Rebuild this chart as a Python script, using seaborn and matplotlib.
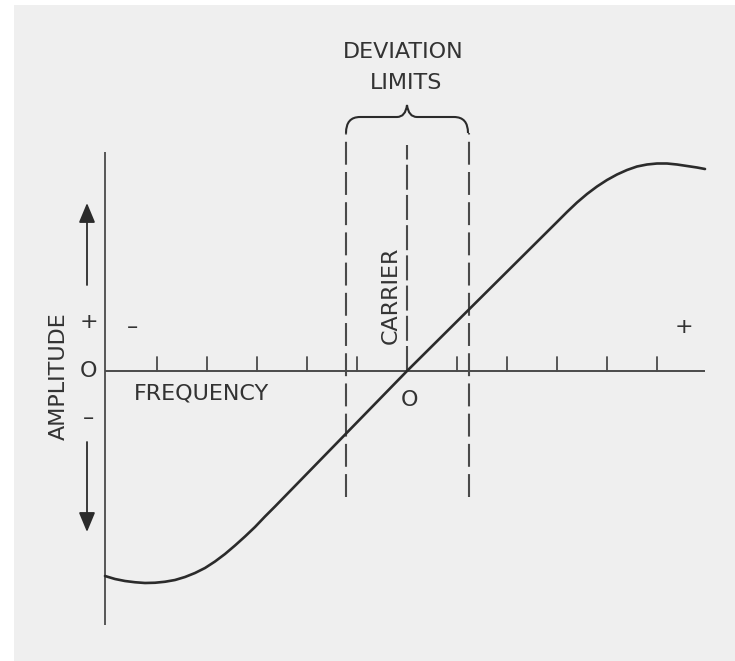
import matplotlib
matplotlib.use("Agg")
import matplotlib.pyplot as plt
from matplotlib.patches import Rectangle, PathPatch
from matplotlib.path import Path
import seaborn as sns
import pandas as pd

# discriminator curve (frequency units = tick spacing)
freq = [-6.04, -5.84, -5.64, -5.44, -5.24, -5.04, -4.84, -4.64, -4.44, -4.24,
        -4.04, -3.84, -3.64, -3.44, -3.24, -3.04, -2.84, -2.64, 0.0, 3.00,
        3.20, 3.40, 3.60, 3.80, 4.00, 4.20, 4.40, 4.60, 4.80, 5.00,
        5.20, 5.40, 5.60, 5.80, 5.96]
amp = [-4.10, -4.16, -4.20, -4.225, -4.24, -4.235, -4.215, -4.18, -4.12, -4.04,
       -3.94, -3.81, -3.66, -3.49, -3.31, -3.12, -2.91, -2.71, 0.0, 2.98,
       3.18, 3.37, 3.54, 3.69, 3.82, 3.93, 4.02, 4.09, 4.13, 4.15,
       4.15, 4.13, 4.10, 4.07, 4.04]

tick_pos = [-5, -4, -3, -2, -1, 1, 2, 3, 4, 5]
dev_limits = [-1.22, 1.23]
amp_labels = ["+", "O", "\u2013"]
amp_label_y = [0.98, 0.0, -0.94]

ink = "#2b2b2b"
axis_ink = "#4a4a4a"
paper = "#efefef"

sns.set_style("white")
plt.rcParams['font.family'] = ['DejaVu Sans']

fig = plt.figure(figsize=(7.35, 6.61), dpi=100)
fig.patch.set_facecolor("white")
fig.patches.append(Rectangle((14 / 735, 0), 1, 656 / 661, transform=fig.transFigure,
                             facecolor=paper, edgecolor="none", zorder=-10))
ax = fig.add_axes([0, 0, 1, 1])
ax.set_facecolor("none")
ax.set_xlim(-8.14, 6.56)
ax.set_ylim(-5.8, 7.42)
ax.axis("off")

df = pd.DataFrame({"freq": freq, "amp": amp})
sns.lineplot(data=df, x="freq", y="amp", ax=ax, color=ink, linewidth=1.9, zorder=5)

# axes
ax.plot([-6.04, 5.96], [0, 0], color=axis_ink, lw=1.4, solid_capstyle="butt")
ax.plot([-6.04, -6.04], [-5.08, 4.38], color=axis_ink, lw=1.3, solid_capstyle="butt")
for t in tick_pos:
    ax.plot([t, t], [0, 0.28], color=axis_ink, lw=1.3)

# deviation limits and carrier
for xd in dev_limits:
    ax.plot([xd, xd], [-2.52, 4.76], color=axis_ink, lw=1.5, linestyle=(0, (11, 3.5)))
ax.plot([0, 0], [0, 4.52], color=axis_ink, lw=1.5, linestyle=(0, (12, 2.5)))

# brace
verts = [(-1.22, 4.76), (-1.22, 5.08), (-0.94, 5.08), (-0.2, 5.08),
         (-0.03, 5.08), (0, 5.32), (0.03, 5.08), (0.2, 5.08),
         (0.94, 5.08), (1.22, 5.08), (1.22, 4.76)]
codes = [Path.MOVETO, Path.CURVE3, Path.CURVE3, Path.LINETO,
         Path.CURVE3, Path.CURVE3, Path.CURVE3, Path.CURVE3,
         Path.LINETO, Path.CURVE3, Path.CURVE3]
ax.add_patch(PathPatch(Path(verts, codes), facecolor="none", edgecolor=ink, lw=1.5))

txt = dict(color="#333333", fontsize=16, ha="center", va="center")
ax.text(-0.07, 6.37, "DEVIATION", **txt)
ax.text(-0.02, 5.76, "LIMITS", **txt)
ax.text(-4.12, -0.45, "FREQUENCY", **txt)
ax.text(0.04, -0.57, "O", **txt)
ax.text(-0.32, 1.52, "CARRIER", rotation=90, **txt)
ax.text(-6.97, -0.11, "AMPLITUDE", rotation=90, **txt)
for lab, yl in zip(amp_labels, amp_label_y):
    ax.text(-6.37, yl, lab, **txt)
ax.text(-5.5, 0.88, "\u2013", **txt)
ax.text(5.54, 0.88, "+", **txt)

arrow = dict(arrowstyle="-|>,head_length=0.6,head_width=0.25", color=ink, lw=1.3,
             shrinkA=0, shrinkB=0, mutation_scale=20)
ax.annotate("", xy=(-6.4, 3.36), xytext=(-6.4, 1.72), arrowprops=arrow)
ax.annotate("", xy=(-6.4, -3.22), xytext=(-6.4, -1.42), arrowprops=arrow)

fig.savefig("out.png", dpi=100, facecolor=fig.get_facecolor())
